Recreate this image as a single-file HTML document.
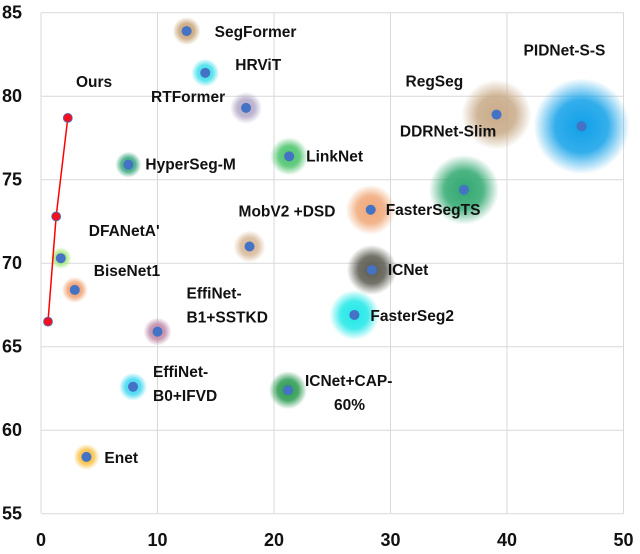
<!DOCTYPE html>
<html><head><meta charset="utf-8"><style>
html,body{margin:0;padding:0;background:#fff;}
svg{display:block;font-family:"Liberation Sans",Arial,sans-serif;font-weight:bold;}
</style></head><body>
<svg id="chart" width="640" height="554" viewBox="0 0 640 554">
<defs id="defs"></defs>
<g id="grid"></g>
<g id="halos"></g>
<g id="ours"></g>
<g id="dots"></g>
<g id="labels"></g>
<g id="ticks"></g>
</svg>
<script>
const xTicks=[0,10,20,30,40,50];
const yTicks=[55,60,65,70,75,80,85];
const names=["SegFormer","HRViT","RTFormer","LinkNet","HyperSeg-M","MobV2 +DSD","DFANetA'","BiseNet1","EffiNet-B1+SSTKD","EffiNet-B0+IFVD","ICNet+CAP-60%","Enet","FasterSegTS","ICNet","FasterSeg2","DDRNet-Slim","RegSeg","PIDNet-S-S"];
const xVals=[12.5,14.1,17.6,21.3,7.5,17.9,1.7,2.9,10.0,7.9,21.2,3.9,28.3,28.4,26.9,36.3,39.1,46.4];
const yVals=[83.9,81.4,79.3,76.4,75.9,71.0,70.3,68.4,65.9,62.6,62.4,58.4,73.2,69.6,66.9,74.4,78.9,78.2];
const oursX=[0.6,1.3,2.3];
const oursY=[66.5,72.8,78.7];

// styling (not data)
const haloColor=["#c8a47a","#3fe0ea","#b4aac8","#4cc46c","#3aa880","#d8b898","#a6e87a","#f0a070","#c08aa8","#40d8f0","#2a9a50","#f8c040","#f0a878","#5a5a50","#20e8e8","#30a870","#c8aa88","#10a0e8"];
const haloR=[14,14,16,19,13,16,11,13,14,14,19,13,25,25,25,35,35,48];
const lblDx=[28,30,-95,17,17,-11,28,19,29,20,17,18,15,16,16,-64,-91,-58];
const lblDy=[6,-3,-6,5,5,-30,-22,-14,-33,-10,-4,6,5,5,6,-53,-28,-71];

const X0=41,XU=11.65,YTOP=12.7,YU=16.7,RIGHT=624,BOTTOM=513;
const sx=v=>X0+v*XU, sy=v=>YTOP+(85-v)*YU;
const NS="http://www.w3.org/2000/svg";
function mk(t,a,p){const e=document.createElementNS(NS,t);for(const k in a)e.setAttribute(k,a[k]);p.appendChild(e);return e;}
const grid=document.getElementById('grid'),ticks=document.getElementById('ticks');
xTicks.forEach(v=>{
 const l=mk('line',{x1:sx(v),x2:sx(v),y1:YTOP,y2:BOTTOM,stroke:'#d9d9d9','stroke-width':1},grid);
 
 
 const t=mk('text',{x:sx(v),y:546,'text-anchor':'middle','font-size':18,fill:'#111'},ticks);t.textContent=v;
 
 
});
yTicks.forEach(v=>{
 const l=mk('line',{x1:X0,x2:RIGHT,y1:sy(v),y2:sy(v),stroke:'#d9d9d9','stroke-width':1},grid);
 
 
 const t=mk('text',{x:2,y:sy(v)+6,'font-size':18,fill:'#111'},ticks);t.textContent=v;
 
 
});
const defs=document.getElementById('defs'),halos=document.getElementById('halos'),dots=document.getElementById('dots'),labels=document.getElementById('labels');
names.forEach((n,i)=>{
 const g=mk('radialGradient',{id:'g'+i},defs);
 mk('stop',{offset:'0','stop-color':haloColor[i],'stop-opacity':1},g);
 mk('stop',{offset:'0.55','stop-color':haloColor[i],'stop-opacity':0.85},g);
 mk('stop',{offset:'1','stop-color':haloColor[i],'stop-opacity':0},g);
 const h=mk('circle',{cx:sx(xVals[i]),cy:sy(yVals[i]),r:haloR[i],fill:'url(#g'+i+')'},halos);
 
 
 const d=mk('circle',{cx:sx(xVals[i]),cy:sy(yVals[i]),r:5,fill:'#4472c4'},dots);
 
 
 const parts=n==="EffiNet-B1+SSTKD"?["EffiNet-","B1+SSTKD"]:n==="EffiNet-B0+IFVD"?["EffiNet-","B0+IFVD"]:n==="ICNet+CAP-60%"?["ICNet+CAP-","60%"]:[n];
 parts.forEach((p,k)=>{
  const lx=sx(xVals[i])+lblDx[i]+(n==="ICNet+CAP-60%"&&k==1?29:0);
  const t=mk('text',{x:lx,y:sy(yVals[i])+lblDy[i]+k*24,'font-size':15.5,fill:'#111'},labels);
  t.textContent=p;
  
  
 });
});
const ours=document.getElementById('ours');
const pl=mk('polyline',{points:oursX.map((v,i)=>sx(v)+','+sy(oursY[i])).join(' '),fill:'none',stroke:'#f00','stroke-width':1.5},ours);


oursX.forEach((v,i)=>{
 const c=mk('circle',{cx:sx(v),cy:sy(oursY[i]),r:4.5,fill:'#f01020',stroke:'#4472c4','stroke-width':0.8},ours);
 
 
});
const ot=mk('text',{x:76,y:87,'font-size':15.5,fill:'#111'},labels);ot.textContent="Ours";


</script>
</body></html>
